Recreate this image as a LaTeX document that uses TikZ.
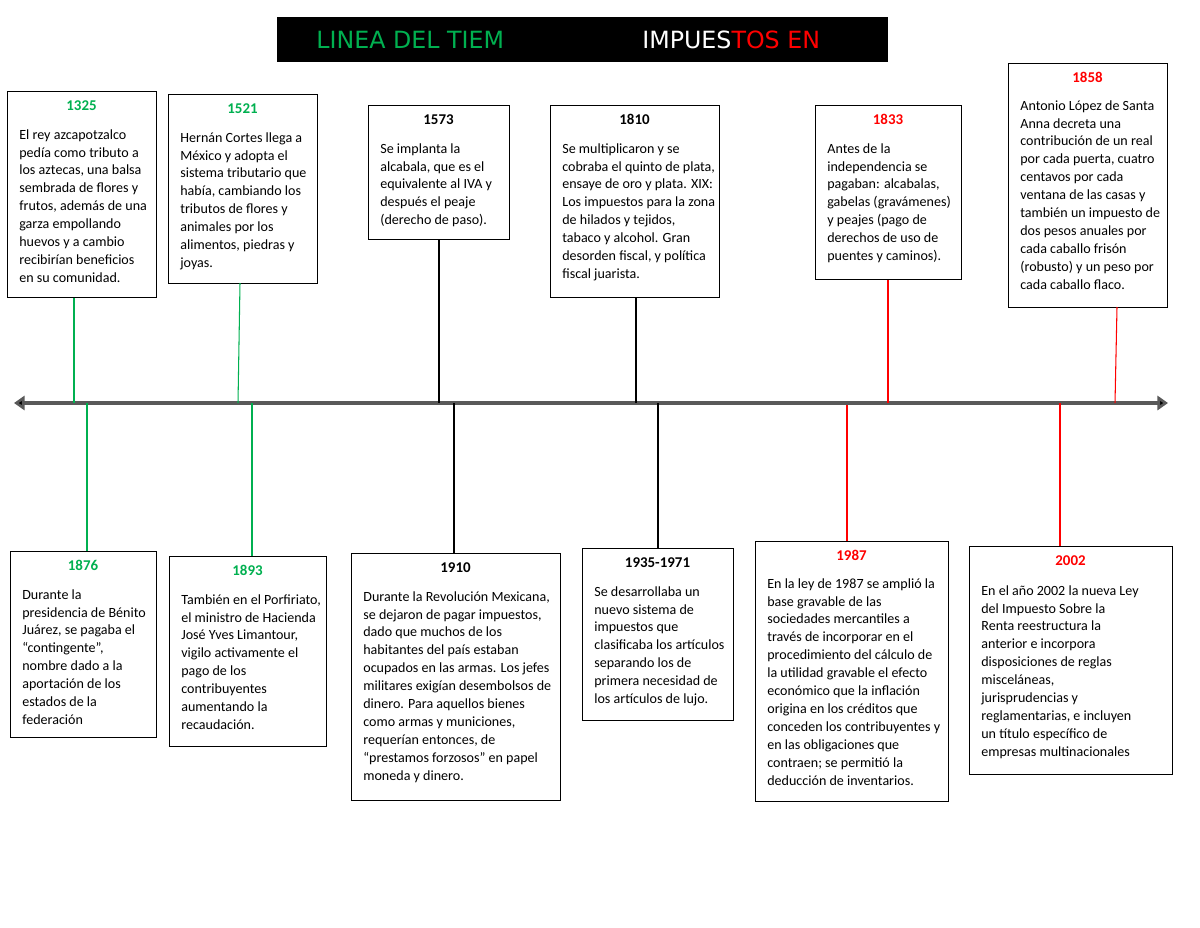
\documentclass[tikz,border=0pt]{standalone}
\usepackage{fontspec}
\setmainfont{Carlito}
\newfontfamily\titlefont{DejaVu Sans}
\usetikzlibrary{arrows.meta}
\definecolor{gr}{RGB}{0,176,80}
\definecolor{rd}{RGB}{255,0,0}
\tikzset{x=0.02cm,y=-0.02cm,
 boxline/.style={draw=black,line width=0.8pt},
 yeartext/.style={font=\bfseries\fontsize{8.5}{10}\selectfont,inner sep=0pt,anchor=north},
 bodytext/.style={font=\fontsize{8}{10.2}\selectfont,inner sep=0pt,anchor=north west,align=left},
 conn/.style={line width=0.6pt}}
\newcommand{\tlbox}[9]{%
 \node[boxline,minimum width={(#4-#2)*0.02cm},minimum height={(#5-#3)*0.02cm},anchor=north west,inner sep=0pt] (#1) at (#2,#3) {};
 \node[yeartext,text=#6] (#1y) at ({(#2+#4)/2},#3+9) {#7};
 \node[bodytext] (#1t) at (#2+#8,#3+#9) {\input{#1}};}
\newcommand{\bx}[9]{%
 \node[boxline,minimum width={(#4-#2)*0.02cm},minimum height={(#5-#3)*0.02cm},anchor=north west,inner sep=0pt] (#1) at (#2,#3) {};
 \node[yeartext,text=#6] (#1y) at ({(#2+#4)/2},#3+9) {#7};
 \node[bodytext] (#1t) at (#2+12,#3+#8) {#9};}
\begin{document}
\begin{tikzpicture}
\useasboundingbox (0,0) rectangle (1200,927);
\fill[white] (0,0) rectangle (1200,927);
% title
\node[fill=black,minimum width={611*0.02cm},minimum height={45*0.02cm},anchor=north west,inner sep=0pt] (title) at (277,17) {};
\node[font=\titlefont\fontsize{13.5}{14}\selectfont,text=gr,anchor=west,inner sep=0pt] (t1) at (316,40) {LINEA DEL TIEM};
\node[font=\titlefont\fontsize{13.5}{14}\selectfont,anchor=west,inner sep=0pt] (t2) at (642,40) {\textcolor{white}{IMPUES}\textcolor{rd}{TOS EN}};
% axis
\coordinate (aL) at (14,403); \coordinate (aR) at (1168,403);
\draw[line width=2pt,draw=black!65,{Triangle[length=6pt,width=8pt,fill=black]}-{Triangle[length=6pt,width=8pt,fill=black]}] (aL) -- (aR);
% boxes top
\bx{b1325}{7}{91}{156}{297}{gr}{1325}{38}{El rey azcapotzalco\\ pedía como tributo a\\ los aztecas, una balsa\\ sembrada de flores y\\ frutos, además de una\\ garza empollando\\ huevos y a cambio\\ recibirían beneficios\\ en su comunidad.}
\bx{b1521}{168}{94}{317}{283}{gr}{1521}{38}{Hernán Cortes llega a\\ México y adopta el\\ sistema tributario que\\ había, cambiando los\\ tributos de flores y\\ animales por los\\ alimentos, piedras y\\ joyas.}
\bx{b1573}{368}{105}{509}{239}{black}{1573}{38}{Se implanta la\\ alcabala, que es el\\ equivalente al IVA y\\ después el peaje\\ (derecho de paso).}
\bx{b1810}{550}{105}{719}{297}{black}{1810}{38}{Se multiplicaron y se\\ cobraba el quinto de plata,\\ ensaye de oro y plata. XIX:\\ Los impuestos para la zona\\ de hilados y tejidos,\\ tabaco y alcohol. Gran\\ desorden fiscal, y política\\ fiscal juarista.}
\bx{b1833}{815}{105}{961}{279}{rd}{1833}{38}{Antes de la\\ independencia se\\ pagaban: alcabalas,\\ gabelas (gravámenes)\\ y peajes (pago de\\ derechos de uso de\\ puentes y caminos).}
\bx{b1858}{1008}{63}{1167}{307}{rd}{1858}{37}{Antonio López de Santa\\ Anna decreta una\\ contribución de un real\\ por cada puerta, cuatro\\ centavos por cada\\ ventana de las casas y\\ también un impuesto de\\ dos pesos anuales por\\ cada caballo frisón\\ (robusto) y un peso por\\ cada caballo flaco.}
% boxes bottom
\bx{b1876}{10}{551}{156}{737}{gr}{1876}{38}{Durante la\\ presidencia de Bénito\\ Juárez, se pagaba el\\ “contingente”,\\ nombre dado a la\\ aportación de los\\ estados de la\\ federación}
\bx{b1893}{169}{556}{326}{746}{gr}{1893}{38}{También en el Porfiriato,\\ el ministro de Hacienda\\ José Yves Limantour,\\ vigilo activamente el\\ pago de los\\ contribuyentes\\ aumentando la\\ recaudación.}
\bx{b1910}{351}{553}{560}{800}{black}{1910}{38}{Durante la Revolución Mexicana,\\ se dejaron de pagar impuestos,\\ dado que muchos de los\\ habitantes del país estaban\\ ocupados en las armas. Los jefes\\ militares exigían desembolsos de\\ dinero. Para aquellos bienes\\ como armas y municiones,\\ requerían entonces, de\\ “prestamos forzosos” en papel\\ moneda y dinero.}
\bx{b1935}{582}{548}{733}{720}{black}{1935-1971}{38}{Se desarrollaba un\\ nuevo sistema de\\ impuestos que\\ clasificaba los artículos\\ separando los de\\ primera necesidad de\\ los artículos de lujo.}
\bx{b1987}{755}{541}{948}{801}{rd}{1987}{37}{En la ley de 1987 se amplió la\\ base gravable de las\\ sociedades mercantiles a\\ través de incorporar en el\\ procedimiento del cálculo de\\ la utilidad gravable el efecto\\ económico que la inflación\\ origina en los créditos que\\ conceden los contribuyentes y\\ en las obligaciones que\\ contraen; se permitió la\\ deducción de inventarios.}
\bx{b2002}{969}{546}{1172}{774}{rd}{2002}{39}{En el año 2002 la nueva Ley\\ del Impuesto Sobre la\\ Renta reestructura la\\ anterior e incorpora\\ disposiciones de reglas\\ misceláneas,\\ jurisprudencias y\\ reglamentarias, e incluyen\\ un título específico de\\ empresas multinacionales}
% connectors top
\coordinate (c1) at (74,403); \coordinate (c2) at (238,403); \coordinate (c3) at (439,403);
\coordinate (c4) at (636,403); \coordinate (c5) at (888,403); \coordinate (c6) at (1115,403);
\draw[conn,gr] (b1325.south -| c1) -- (c1);
\draw[conn,gr] (240,283) coordinate (s2) -- (c2);
\draw[conn] (b1573.south -| c3) -- (c3);
\draw[conn] (b1810.south -| c4) -- (c4);
\draw[conn,rd] (b1833.south -| c5) -- (c5);
\draw[conn,rd] (1117,307) coordinate (s6) -- (c6);
% connectors bottom
\coordinate (d1) at (87,403); \coordinate (d2) at (252,403); \coordinate (d3) at (454,403);
\coordinate (d4) at (658,403); \coordinate (d5) at (847,405); \coordinate (d6) at (1060,403);
\draw[conn,gr] (d1) -- (b1876.north -| d1);
\draw[conn,gr] (d2) -- (b1893.north -| d2);
\draw[conn] (d3) -- (b1910.north -| d3);
\draw[conn] (d4) -- (b1935.north -| d4);
\draw[conn,rd] (d5) -- (b1987.north -| d5);
\draw[conn,rd] (d6) -- (b2002.north -| d6);
\end{tikzpicture}
\end{document}
